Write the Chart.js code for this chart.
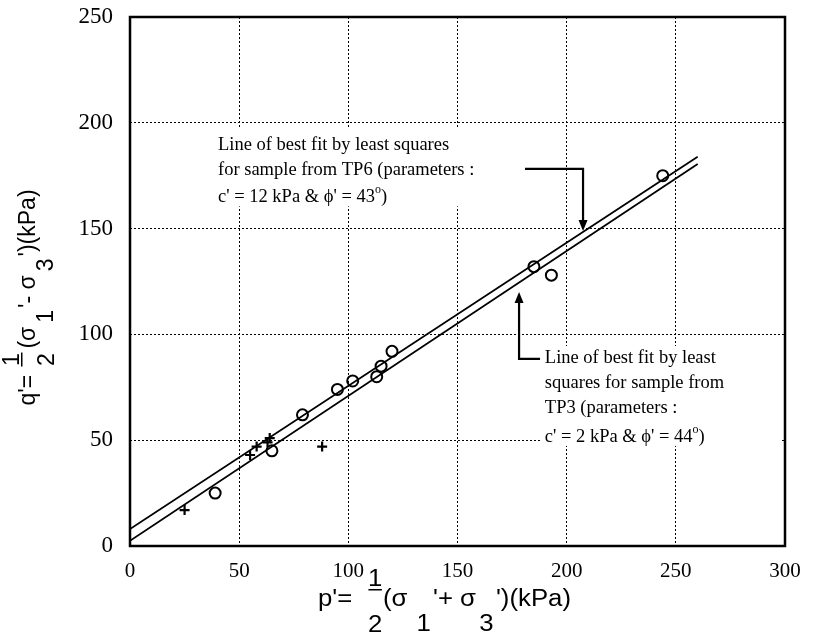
<!DOCTYPE html>
<html>
<head>
<meta charset="utf-8">
<script src="https://cdn.jsdelivr.net/npm/chart.js@4.4.0/dist/chart.umd.min.js"></script>
<style>
  body { margin: 0; background: #fff; }
</style>
</head>
<body>
<canvas id="pqChart" width="821" height="638"></canvas>
<script>
// TP3 samples (circles)
var tp3P = [39, 65, 79, 95, 102, 113, 115, 120, 185, 193, 244];
var tp3Q = [25, 45, 62, 74, 78, 80, 85, 92, 132, 128, 175];
// TP6 samples (crosses)
var tp6P = [25, 55, 58, 63, 64, 88];
var tp6Q = [17, 43, 47, 49, 51, 47];
// best fit lines, end points only
var fitP = [0, 260];
var fitTP6Q = [8, 184];
var fitTP3Q = [2.5, 180.5];

var xTicks = [0, 50, 100, 150, 200, 250, 300];
var yTicks = [0, 50, 100, 150, 200, 250];

var serif = '"Liberation Serif", "Times New Roman", serif';
var sans = '"Liberation Sans", Arial, sans-serif';

function toPoints(px, py) {
    return px.map(function (v, i) { return { x: v, y: py[i] }; });
}

// run of text pieces around (0,0); sub pieces drop down, num/den pieces stack
function mathText(ctx, parts, size, opt) {
    ctx.font = size + 'px ' + sans;
    ctx.textBaseline = 'middle';
    ctx.textAlign = 'left';
    var total = 0;
    parts.forEach(function (p) {
        total += (p.num ? opt.fracW : ctx.measureText(p.t).width) + (p.gap || 0);
    });
    var x = -total / 2;
    parts.forEach(function (p) {
        if (p.num) {
            ctx.textAlign = 'center';
            ctx.fillText(p.num, x + opt.fracW / 2, opt.numY);
            ctx.fillText(p.den, x + opt.fracW / 2, opt.denY);
            ctx.fillRect(x, opt.barY, opt.fracW, 1.5);
            ctx.textAlign = 'left';
            x += opt.fracW + (p.gap || 0);
        } else {
            ctx.fillText(p.t, x, p.sub ? opt.subY : 0);
            x += ctx.measureText(p.t).width + (p.gap || 0);
        }
    });
}

function noteLine(ctx, x, y, parts) {
    ctx.textBaseline = 'middle';
    ctx.textAlign = 'left';
    parts.forEach(function (p) {
        ctx.font = (p.sup ? 12 : 18.5) + 'px ' + serif;
        ctx.fillText(p.t, x, p.sup ? y - 7 : y);
        x += ctx.measureText(p.t).width;
    });
}

function arrow(ctx, xs, ys, path) {
    var px = path.map(function (p) { return xs.getPixelForValue(p[0]); });
    var py = path.map(function (p) { return ys.getPixelForValue(p[1]); });
    var n = path.length - 1;
    var dx = px[n] - px[n - 1], dy = py[n] - py[n - 1];
    var len = Math.sqrt(dx * dx + dy * dy);
    var ux = dx / len, uy = dy / len;
    ctx.lineWidth = 2.2;
    ctx.beginPath();
    ctx.moveTo(px[0], py[0]);
    for (var i = 1; i < n; i++) ctx.lineTo(px[i], py[i]);
    ctx.lineTo(px[n] - ux * 8, py[n] - uy * 8);
    ctx.stroke();
    ctx.beginPath();
    ctx.moveTo(px[n], py[n]);
    ctx.lineTo(px[n] - ux * 11 - uy * 4.5, py[n] - uy * 11 + ux * 4.5);
    ctx.lineTo(px[n] - ux * 11 + uy * 4.5, py[n] - uy * 11 - ux * 4.5);
    ctx.closePath();
    ctx.fill();
}

function whiteBox(ctx, xs, ys, p0, q0, p1, q1) {
    var x0 = xs.getPixelForValue(p0), y0 = ys.getPixelForValue(q0);
    ctx.fillRect(x0, y0, xs.getPixelForValue(p1) - x0, ys.getPixelForValue(q1) - y0);
}

var notes = {
    id: 'notes',
    beforeDatasetsDraw: function (chart) {
        var ctx = chart.ctx, xs = chart.scales.x, ys = chart.scales.y;
        ctx.save();
        ctx.fillStyle = '#fff';
        whiteBox(ctx, xs, ys, 38.5, 197.5, 162, 160.5);
        whiteBox(ctx, xs, ys, 188.3, 94.5, 298.6, 47.3);
        ctx.restore();
    },
    afterDatasetsDraw: function (chart) {
        var ctx = chart.ctx, xs = chart.scales.x, ys = chart.scales.y;
        ctx.save();
        ctx.fillStyle = '#000';
        ctx.strokeStyle = '#000';
        var ux = xs.getPixelForValue(40.3);
        noteLine(ctx, ux, ys.getPixelForValue(189.5), [{ t: 'Line of best fit by least squares' }]);
        noteLine(ctx, ux, ys.getPixelForValue(177.7), [{ t: 'for sample from TP6 (parameters :' }]);
        noteLine(ctx, ux, ys.getPixelForValue(164.9), [{ t: "c' = 12 kPa & \u03D5' = 43" }, { t: 'o', sup: true }, { t: ')' }]);
        var lx = xs.getPixelForValue(190);
        noteLine(ctx, lx, ys.getPixelForValue(88.8), [{ t: 'Line of best fit by least' }]);
        noteLine(ctx, lx, ys.getPixelForValue(77.0), [{ t: 'squares for sample from' }]);
        noteLine(ctx, lx, ys.getPixelForValue(65.2), [{ t: 'TP3 (parameters :' }]);
        noteLine(ctx, lx, ys.getPixelForValue(51.5), [{ t: "c' = 2 kPa & \u03D5' = 44" }, { t: 'o', sup: true }, { t: ')' }]);
        arrow(ctx, xs, ys, [[180.9, 178.2], [207.5, 178.2], [207.5, 148.9]]);
        arrow(ctx, xs, ys, [[187.8, 88.4], [178.2, 88.4], [178.2, 120]]);
        ctx.restore();
    },
    afterDraw: function (chart) {
        var ctx = chart.ctx, a = chart.chartArea;
        ctx.save();
        ctx.strokeStyle = '#000';
        ctx.lineWidth = 2.5;
        ctx.strokeRect(a.left, a.top, a.right - a.left, a.bottom - a.top);
        ctx.fillStyle = '#000';

        // x title
        ctx.save();
        ctx.translate((a.left + a.right) / 2 - 13, 600);
        ctx.scale(1.12, 1);
        mathText(ctx, [
            { t: "p'= ", gap: 8 },
            { num: '1', den: '2', gap: 1 },
            { t: '(\u03C3', gap: 8 },
            { t: '1', sub: true, gap: 2 },
            { t: "'+ \u03C3", gap: 3 },
            { t: '3', sub: true, gap: 2 },
            { t: "')(kPa)" }
        ], 23, { fracW: 12, numY: -20, barY: -11, denY: 26, subY: 25 });
        ctx.restore();

        // y title
        ctx.save();
        ctx.translate(29, 297.5);
        ctx.rotate(-Math.PI / 2);
        mathText(ctx, [
            { t: "q'= ", gap: 2 },
            { num: '1', den: '2', gap: 4 },
            { t: '(\u03C3', gap: 4 },
            { t: '1', sub: true, gap: 2 },
            { t: "'- \u03C3", gap: 4 },
            { t: '3', sub: true, gap: 2 },
            { t: "')(kPa)" }
        ], 23, { fracW: 14, numY: -16, barY: -8, denY: 19, subY: 18 });
        ctx.restore();

        ctx.restore();
    }
};

Chart.defaults.color = '#000';
Chart.defaults.font.family = serif;

var ctx = document.getElementById('pqChart').getContext('2d');
var pqChart = new Chart(ctx, {
    type: 'scatter',
    data: {
        datasets: [{
            label: 'TP3',
            data: toPoints(tp3P, tp3Q),
            pointStyle: 'circle',
            pointRadius: 5.5,
            pointBorderWidth: 2,
            borderColor: '#000',
            backgroundColor: 'rgba(0,0,0,0)'
        }, {
            label: 'TP6',
            data: toPoints(tp6P, tp6Q),
            pointStyle: 'cross',
            pointRadius: 5,
            pointBorderWidth: 2.2,
            borderColor: '#000'
        }, {
            label: 'Best fit TP6',
            data: toPoints(fitP, fitTP6Q),
            showLine: true,
            pointRadius: 0,
            borderColor: '#000',
            borderWidth: 1.8
        }, {
            label: 'Best fit TP3',
            data: toPoints(fitP, fitTP3Q),
            showLine: true,
            pointRadius: 0,
            borderColor: '#000',
            borderWidth: 1.8
        }]
    },
    options: {
        responsive: false,
        animation: false,
        layout: { padding: { left: 0, top: 17, right: 36, bottom: 0 } },
        plugins: {
            legend: { display: false },
            tooltip: { enabled: false }
        },
        scales: {
            x: {
                type: 'linear',
                min: 0,
                max: 300,
                afterBuildTicks: function (s) { s.ticks = xTicks.map(function (v) { return { value: v }; }); },
                afterFit: function (s) { s.height = 92; s.paddingLeft = 0; s.paddingRight = 0; },
                ticks: { font: { size: 21, family: serif }, padding: 13, maxRotation: 0 },
                grid: { color: '#000', lineWidth: 1, drawTicks: false, tickLength: 0 },
                border: { display: false, dash: [2, 2] }
            },
            y: {
                type: 'linear',
                min: 0,
                max: 250,
                afterBuildTicks: function (s) { s.ticks = yTicks.map(function (v) { return { value: v }; }); },
                afterFit: function (s) { s.width = 130; s.paddingTop = 0; s.paddingBottom = 0; },
                ticks: { font: { size: 23, family: serif }, padding: 17 },
                grid: { color: '#000', lineWidth: 1, drawTicks: false, tickLength: 0 },
                border: { display: false, dash: [2, 2] }
            }
        }
    },
    plugins: [notes]
});
</script>
</body>
</html>
